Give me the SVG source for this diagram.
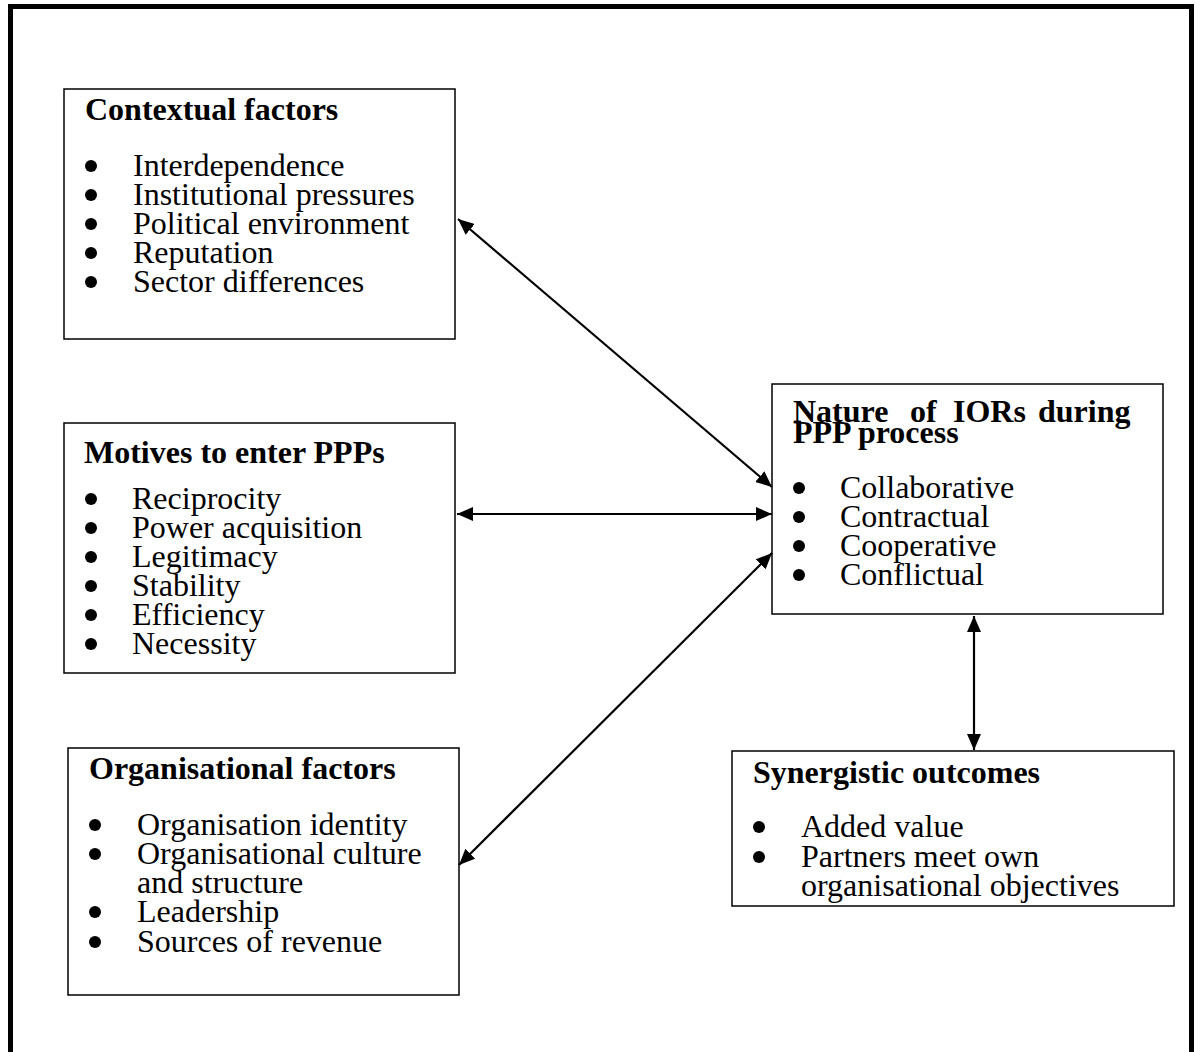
<svg xmlns="http://www.w3.org/2000/svg" width="1200" height="1052" viewBox="0 0 1200 1052">
  <style>
    .box { fill: #ffffff; stroke: #000000; stroke-width: 1.5; }
    .frame { fill: none; stroke: #000000; stroke-width: 5; }
    .title { font-family: "Liberation Serif", "Times New Roman", serif; font-size: 32px; font-weight: bold; fill: #000000; }
    .item { font-family: "Liberation Serif", "Times New Roman", serif; font-size: 32px; fill: #000000; }
    .link { stroke: #000000; stroke-width: 2.2; fill: none; marker-start: url(#arrow); marker-end: url(#arrow); }
  </style>
  <defs>
    <marker id="arrow" viewBox="0 0 16 14" refX="16" refY="7" markerWidth="16" markerHeight="14" markerUnits="userSpaceOnUse" orient="auto-start-reverse">
      <path d="M0,0 L16,7 L0,14 z" fill="#000000"/>
    </marker>
    <circle id="dot" r="6" fill="#000000"/>
  </defs>

  <rect width="1200" height="1052" fill="#ffffff"/>
  <!-- outer frame, open at the bottom edge of the page -->
  <rect class="frame" x="10.5" y="6.5" width="1181" height="1070"/>

  <g id="contextual-factors">
    <rect class="box" x="64" y="89" width="391" height="250"/>
    <text class="title" x="85" y="120">Contextual factors</text>
    <use href="#dot" x="91" y="166"/>
    <use href="#dot" x="91" y="195"/>
    <use href="#dot" x="91" y="224"/>
    <use href="#dot" x="91" y="253"/>
    <use href="#dot" x="91" y="282"/>
    <text class="item" x="133" y="176">Interdependence</text>
    <text class="item" x="133" y="205">Institutional pressures</text>
    <text class="item" x="133" y="234">Political environment</text>
    <text class="item" x="133" y="263">Reputation</text>
    <text class="item" x="133" y="292">Sector differences</text>
  </g>

  <g id="motives">
    <rect class="box" x="64" y="423" width="391" height="250"/>
    <text class="title" x="84" y="463">Motives to enter PPPs</text>
    <use href="#dot" x="91" y="499"/>
    <use href="#dot" x="91" y="528"/>
    <use href="#dot" x="91" y="557"/>
    <use href="#dot" x="91" y="586"/>
    <use href="#dot" x="91" y="615"/>
    <use href="#dot" x="91" y="644"/>
    <text class="item" x="132" y="509">Reciprocity</text>
    <text class="item" x="132" y="538">Power acquisition</text>
    <text class="item" x="132" y="567">Legitimacy</text>
    <text class="item" x="132" y="596">Stability</text>
    <text class="item" x="132" y="625">Efficiency</text>
    <text class="item" x="132" y="654">Necessity</text>
  </g>

  <g id="organisational-factors">
    <rect class="box" x="68" y="748" width="391" height="247"/>
    <text class="title" x="89" y="779">Organisational factors</text>
    <use href="#dot" x="95" y="825"/>
    <use href="#dot" x="95" y="854"/>
    <use href="#dot" x="95" y="912"/>
    <use href="#dot" x="95" y="942"/>
    <text class="item" x="137" y="835">Organisation identity</text>
    <text class="item" x="137" y="864">Organisational culture</text>
    <text class="item" x="137" y="893">and structure</text>
    <text class="item" x="137" y="922">Leadership</text>
    <text class="item" x="137" y="952">Sources of revenue</text>
  </g>

  <g id="nature-of-iors">
    <rect class="box" x="772" y="384" width="391" height="230"/>
    <!-- justified first heading line: words placed individually -->
    <text class="title" y="422"><tspan x="793">Nature</tspan><tspan x="910">of</tspan><tspan x="953">IORs</tspan><tspan x="1038">during</tspan></text>
    <text class="title" x="793" y="443">PPP process</text>
    <use href="#dot" x="799" y="488"/>
    <use href="#dot" x="799" y="517"/>
    <use href="#dot" x="799" y="546"/>
    <use href="#dot" x="799" y="575"/>
    <text class="item" x="840" y="498">Collaborative</text>
    <text class="item" x="840" y="527">Contractual</text>
    <text class="item" x="840" y="556">Cooperative</text>
    <text class="item" x="840" y="585">Conflictual</text>
  </g>

  <g id="synergistic-outcomes">
    <rect class="box" x="732" y="751" width="442" height="155"/>
    <text class="title" x="753" y="783">Synergistic outcomes</text>
    <use href="#dot" x="759" y="827"/>
    <use href="#dot" x="759" y="857"/>
    <text class="item" x="801" y="837">Added value</text>
    <text class="item" x="801" y="867">Partners meet own</text>
    <text class="item" x="801" y="896">organisational objectives</text>
  </g>

  <g id="connectors">
    <line class="link" x1="458" y1="219" x2="772" y2="487"/>
    <line class="link" x1="457" y1="514" x2="772" y2="514"/>
    <line class="link" x1="459" y1="865" x2="772" y2="553"/>
    <line class="link" x1="974" y1="616" x2="974" y2="750"/>
  </g>
</svg>
